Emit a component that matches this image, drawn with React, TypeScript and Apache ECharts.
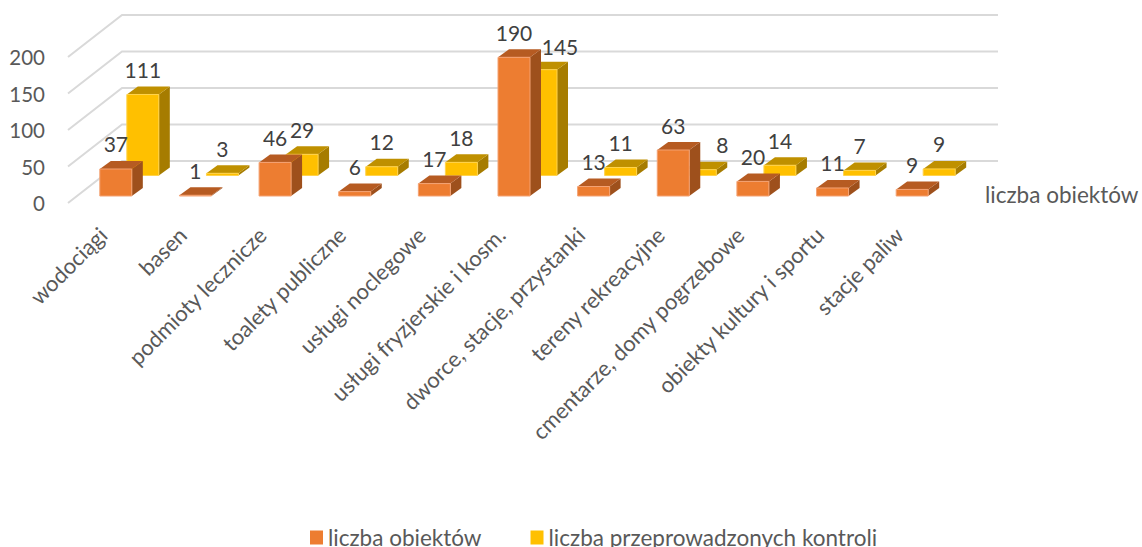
import React, { useEffect, useRef } from "react";
import * as echarts from "echarts";

const categories = [
  "wodociągi",
  "basen",
  "podmioty lecznicze",
  "toalety publiczne",
  "usługi noclegowe",
  "usługi fryzjerskie i kosm.",
  "dworce, stacje, przystanki",
  "tereny rekreacyjne",
  "cmentarze, domy pogrzebowe",
  "obiekty kultury i sportu",
  "stacje paliw",
];
const objectCounts = [37, 1, 46, 6, 17, 190, 13, 63, 20, 11, 9];
const inspectionCounts = [111, 3, 29, 12, 18, 145, 11, 8, 14, 7, 9];
const yTicks = [0, 50, 100, 150, 200];
const seriesNames = ["liczba obiektów", "liczba przeprowadzonych kontroli"];
const depthAxisLabel = "liczba obiektów";

const FONT = "Lato, sans-serif";
const BAR_W = 32;
const DEPTH_X = 11;
const DEPTH_Y = 8;
// Labels the reference moves sideways so that they clear the neighbouring bar.
const yellowLabelNudge: Record<number, [number, number]> = { 5: [19, 2], 7: [22, 0] };

function barRenderer(
  offX: number,
  offY: number,
  front: string,
  edge: string,
  top: string,
  side: string,
  nudge: Record<number, [number, number]> = {},
) {
  return (_params: any, api: any) => {
    const i = api.value(0);
    const v = api.value(1);
    const t = api.coord([i, v]);
    const b = api.coord([i, 0]);
    const x0 = t[0] + offX - BAR_W / 2;
    const x1 = x0 + BAR_W;
    const yT = t[1] + offY;
    const yB = b[1] + offY;
    const n = nudge[i] || [0, 0];
    const children: any[] = [
      {
        type: "polygon",
        shape: { points: [[x1, yT], [x1 + DEPTH_X, yT - DEPTH_Y], [x1 + DEPTH_X, yB - DEPTH_Y], [x1, yB]] },
        style: { fill: side },
      },
      {
        type: "polygon",
        shape: { points: [[x0, yT], [x0 + DEPTH_X, yT - DEPTH_Y], [x1 + DEPTH_X, yT - DEPTH_Y], [x1, yT]] },
        style: { fill: top },
      },
      {
        type: "rect",
        shape: { x: x0, y: yT, width: BAR_W, height: yB - yT },
        style: { fill: front, stroke: edge, lineWidth: 1 },
      },
      {
        type: "text",
        style: {
          text: String(v),
          x: x0 + BAR_W / 2 + n[0],
          y: yT - DEPTH_Y - 17 + n[1],
          fill: "#404040",
          font: `21px ${FONT}`,
          align: "center",
          verticalAlign: "middle",
        },
      },
    ];
    return { type: "group", children };
  };
}

function wallRenderer(params: any, api: any) {
  const v = api.value(1);
  const y = api.coord([0, v])[1];
  const sys = params.coordSys;
  return {
    type: "polyline",
    shape: {
      points: [
        [sys.x, y],
        [sys.x + 54, y - 42],
        [sys.x + sys.width + 54, y - 42],
      ],
    },
    style: { stroke: "#D9D9D9", lineWidth: 2, fill: "none" },
  };
}

export default function App() {
  const ref = useRef<HTMLDivElement>(null);
  useEffect(() => {
    const chart = echarts.init(ref.current!, undefined, { renderer: "svg" });
    chart.setOption({
      animation: false,
      backgroundColor: "#ffffff",
      textStyle: { fontFamily: FONT },
      grid: { left: 68, top: 57, width: 876, height: 146, containLabel: false },
      xAxis: {
        type: "category",
        data: categories,
        axisLine: { show: false },
        axisTick: { show: false },
        axisLabel: {
          interval: 0,
          rotate: 45,
          color: "#595959",
          fontSize: 22,
          fontFamily: FONT,
          margin: 23,
          padding: [0, 7, 0, 0],
        },
      },
      yAxis: {
        type: "value",
        min: 0,
        max: 200,
        interval: 50,
        axisLine: { show: false },
        axisTick: { show: false },
        splitLine: { show: false },
        axisLabel: { color: "#595959", fontSize: 20.5, fontFamily: FONT, margin: 23 },
      },
      legend: {
        left: 310,
        top: 526,
        padding: 0,
        icon: "rect",
        itemWidth: 13,
        itemHeight: 14,
        itemGap: 49,
        data: seriesNames,
        selectedMode: false,
        textStyle: { color: "#595959", fontSize: 22.5, fontFamily: FONT },
      },
      graphic: [
        {
          type: "text",
          x: 985,
          y: 194,
          style: { text: depthAxisLabel, fill: "#595959", font: `22.5px ${FONT}`, verticalAlign: "middle" },
        },
      ],
      series: [
        {
          type: "custom",
          name: "walls",
          z: 1,
          silent: true,
          clip: false,
          encode: { x: 0, y: 1 },
          data: yTicks.map((v) => [0, v]),
          renderItem: wallRenderer,
        },
        {
          type: "custom",
          name: seriesNames[1],
          z: 2,
          clip: false,
          itemStyle: { color: "#FFC000" },
          encode: { x: 0, y: 1 },
          data: inspectionCounts.map((v, i) => [i, v]),
          renderItem: barRenderer(35, -27.5, "#FFC000", "#FFD34D", "#BF9000", "#A67C00", yellowLabelNudge),
        },
        {
          type: "custom",
          name: seriesNames[0],
          z: 3,
          clip: false,
          itemStyle: { color: "#ED7D31" },
          encode: { x: 0, y: 1 },
          data: objectCounts.map((v, i) => [i, v]),
          renderItem: barRenderer(8, -7, "#ED7D31", "#F4A273", "#B65B22", "#9E501C"),
        },
      ],
    });
    return () => chart.dispose();
  }, []);
  return <div ref={ref} style={{ position: "absolute", left: 0, top: 0, width: 1142, height: 547 }} />;
}
